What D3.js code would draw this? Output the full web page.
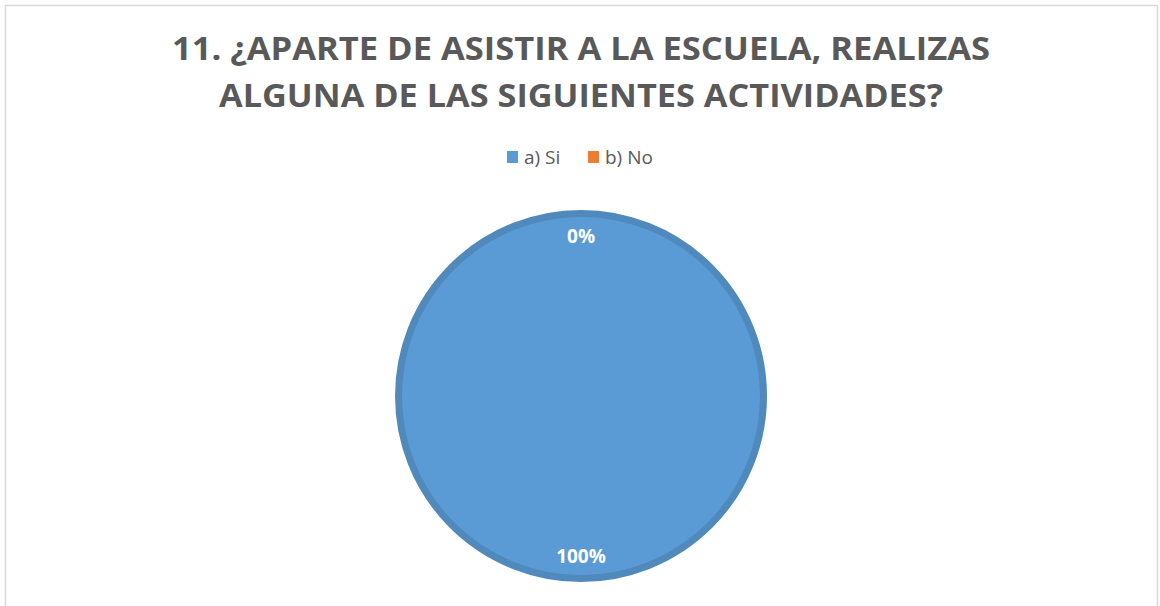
<!DOCTYPE html>
<html>
<head>
<meta charset="utf-8">
<script src="https://cdn.jsdelivr.net/npm/d3@7"></script>
<style>
body { margin: 0; background: #fff; }
svg { display: block; }
</style>
</head>
<body>
<svg id="chart" width="1160" height="606"></svg>
<script>
// data
var categories = ["a) Si", "b) No"];
var values = [100, 0];
var colors = ["#5b9bd5", "#ed7d31"];
var titleLines = ["11. ¿APARTE DE ASISTIR A LA ESCUELA, REALIZAS", "ALGUNA DE LAS SIGUIENTES ACTIVIDADES?"];

function drawChart() {
	var svg = d3.select("#chart");
	var width = 1160;

	// frame
	svg.append("rect").attr("x", 5.5).attr("y", 5.5).attr("width", 1152).attr("height", 640)
		.attr("fill", "#fff").attr("stroke", "#d9d9d9").attr("stroke-width", 1.5);

	// title
	var title = svg.append("g");
	var titleWidths = [818, 724];
	titleLines.forEach(function(line, i) {
		title.append("text")
			.attr("x", width / 2 + 1).attr("y", 60 + i * 47)
			.attr("text-anchor", "middle")
			.attr("font-family", "'Open Sans', sans-serif")
			.attr("font-weight", "bold")
			.attr("font-size", 32)
			.attr("fill", "#595959")
			.attr("textLength", titleWidths[i])
			.attr("lengthAdjust", "spacingAndGlyphs")
			.text(line);
	});

	// legend
	var legend = svg.append("g").attr("transform", "translate(507,151)");
	var lx = 0;
	categories.forEach(function(c, i) {
		var item = legend.append("g").attr("transform", "translate(" + lx + ",0)");
		item.append("rect").attr("width", 11).attr("height", 12).attr("fill", colors[i]);
		item.append("text").attr("x", 17).attr("y", 13)
			.attr("font-family", "'Open Sans', sans-serif").attr("font-size", 19)
			.attr("fill", "#595959")
			.text(c);
		lx += 81;
	});

	// pie
	var cx = 581, cy = 396, r = 186;
	var pie = d3.pie().sort(null).value(function(d) { return d; });
	var arcs = pie(values);
	var arc = d3.arc().innerRadius(0).outerRadius(r - 3.5);
	var labelArc = d3.arc().innerRadius(r * 0.86).outerRadius(r * 0.86);
	var g = svg.append("g").attr("transform", "translate(" + cx + "," + cy + ")");

	g.selectAll("path.slice").data(arcs).enter().append("path")
		.attr("class", "slice")
		.attr("d", arc)
		.attr("fill", function(d, i) { return colors[i]; })
		.attr("stroke", function(d, i) { return d3.color(colors[i]).darker(0.35); })
		.attr("stroke-width", function(d) { return d.value > 0 ? 7 : 0; });

	g.selectAll("text.lbl").data(arcs).enter().append("text")
		.attr("class", "lbl")
		.attr("transform", function(d) {
			var p = labelArc.centroid(d);
			return "translate(" + p[0] + "," + p[1] + ")";
		})
		.attr("text-anchor", "middle")
		.attr("dy", "0.35em")
		.attr("font-family", "'Open Sans', sans-serif")
		.attr("font-weight", "bold")
		.attr("font-size", 19)
		.attr("fill", "#fff")
		.text(function(d) { return d.value + "%"; });
}

drawChart();
</script>
</body>
</html>
